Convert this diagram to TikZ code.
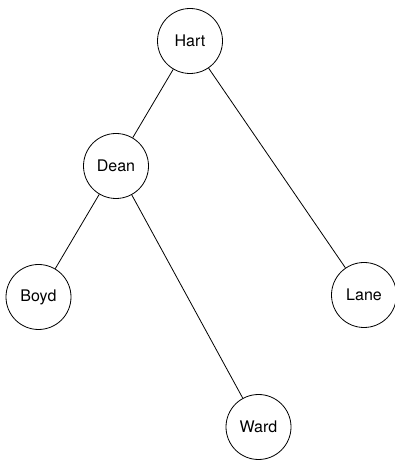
\documentclass[tikz,border=0pt]{standalone}
\usepackage{fontspec}
\setmainfont{TeX Gyre Heros}
\begin{document}
\begin{tikzpicture}[x=1pt, y=1pt, line width=0.8pt,
	person/.style={draw, circle, minimum size=65pt, inner sep=0pt, font=\fontsize{16}{19}\selectfont}]
	\useasboundingbox (0,0) rectangle (395,460);
	\node[person] (hart) at (190,419) {Hart};
	\node[person] (dean) at (116,294) {Dean};
	\node[person] (boyd) at (38.5,163) {Boyd};
	\node[person] (lane) at (364,165) {Lane};
	\node[person] (ward) at (258.5,33) {Ward};
	
	\draw (hart) -- (dean);
	\draw (hart) -- (lane);
	\draw (dean) -- (boyd);
	\draw (dean) -- (ward);
	\end{tikzpicture}
\end{document}
